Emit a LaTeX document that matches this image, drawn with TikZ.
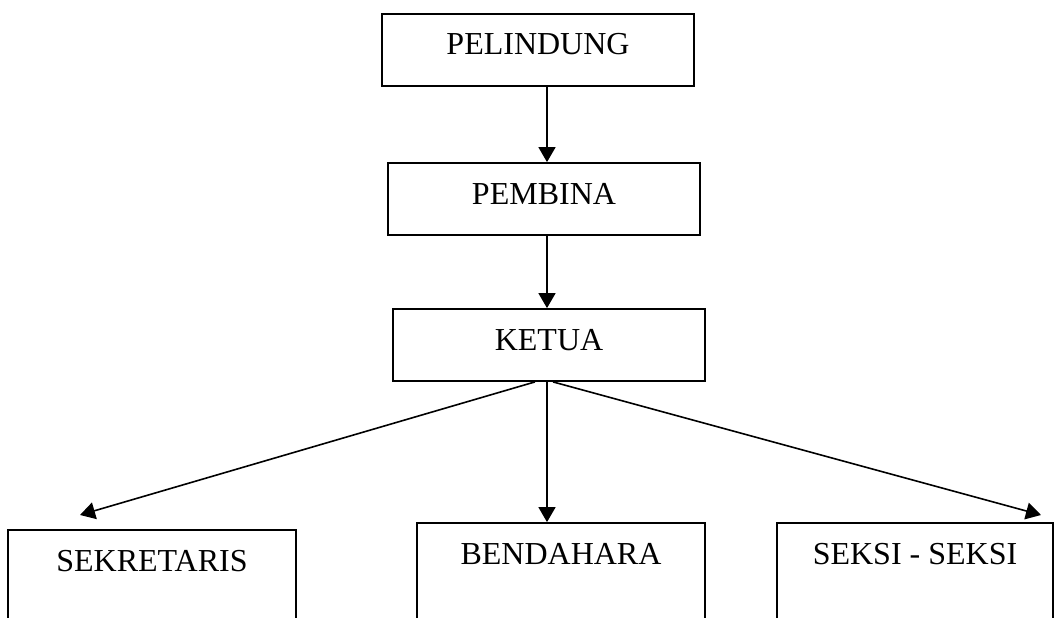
\documentclass[tikz,border=0pt]{standalone}
\usepackage{fontspec}
\setmainfont{Liberation Serif}
\usetikzlibrary{arrows.meta,calc}
\begin{document}
\begin{tikzpicture}[x=1pt,y=-1pt,
  topbox/.style={draw, line width=1.8pt, minimum width=312pt, minimum height=72pt, inner sep=0pt, text height=21pt, text depth=11pt, font=\fontsize{32}{38}\selectfont},
  lowbox/.style={draw, line width=1.8pt, minimum height=130pt, inner sep=0pt, text height=21pt, text depth=69pt, font=\fontsize{32}{38}\selectfont},
  conn/.style={line width=1.6pt, -{Triangle[length=15pt,width=17pt]}}]
\useasboundingbox (0,0) rectangle (1055,618);
\clip (0,0) rectangle (1055,618);
\node[topbox] (pel) at (538,50) {PELINDUNG};
\node[topbox] (pem) at (544,199) {PEMBINA};
\node[topbox] (ket) at (549,345) {KETUA};
\node[lowbox, minimum width=288pt] (sek) at (152,595) {SEKRETARIS};
\node[lowbox, minimum width=288pt] (ben) at (561,588) {BENDAHARA};
\node[lowbox, minimum width=276pt] (sks) at (915,588) {SEKSI - SEKSI};
\coordinate (spine) at (547,0);
\coordinate (tipL) at (80,515);
\coordinate (tipR) at (1041,515);
\draw[conn] (pel.south -| spine) -- (pem.north -| spine);
\draw[conn] (pem.south -| spine) -- (ket.north -| spine);
\draw[conn] ($(ket.south)+(-14,0)$) -- (tipL);
\draw[conn] (ket.south -| spine) -- (ben.north -| spine);
\draw[conn] ($(ket.south)+(4,0)$) -- (tipR);
\end{tikzpicture}
\end{document}
